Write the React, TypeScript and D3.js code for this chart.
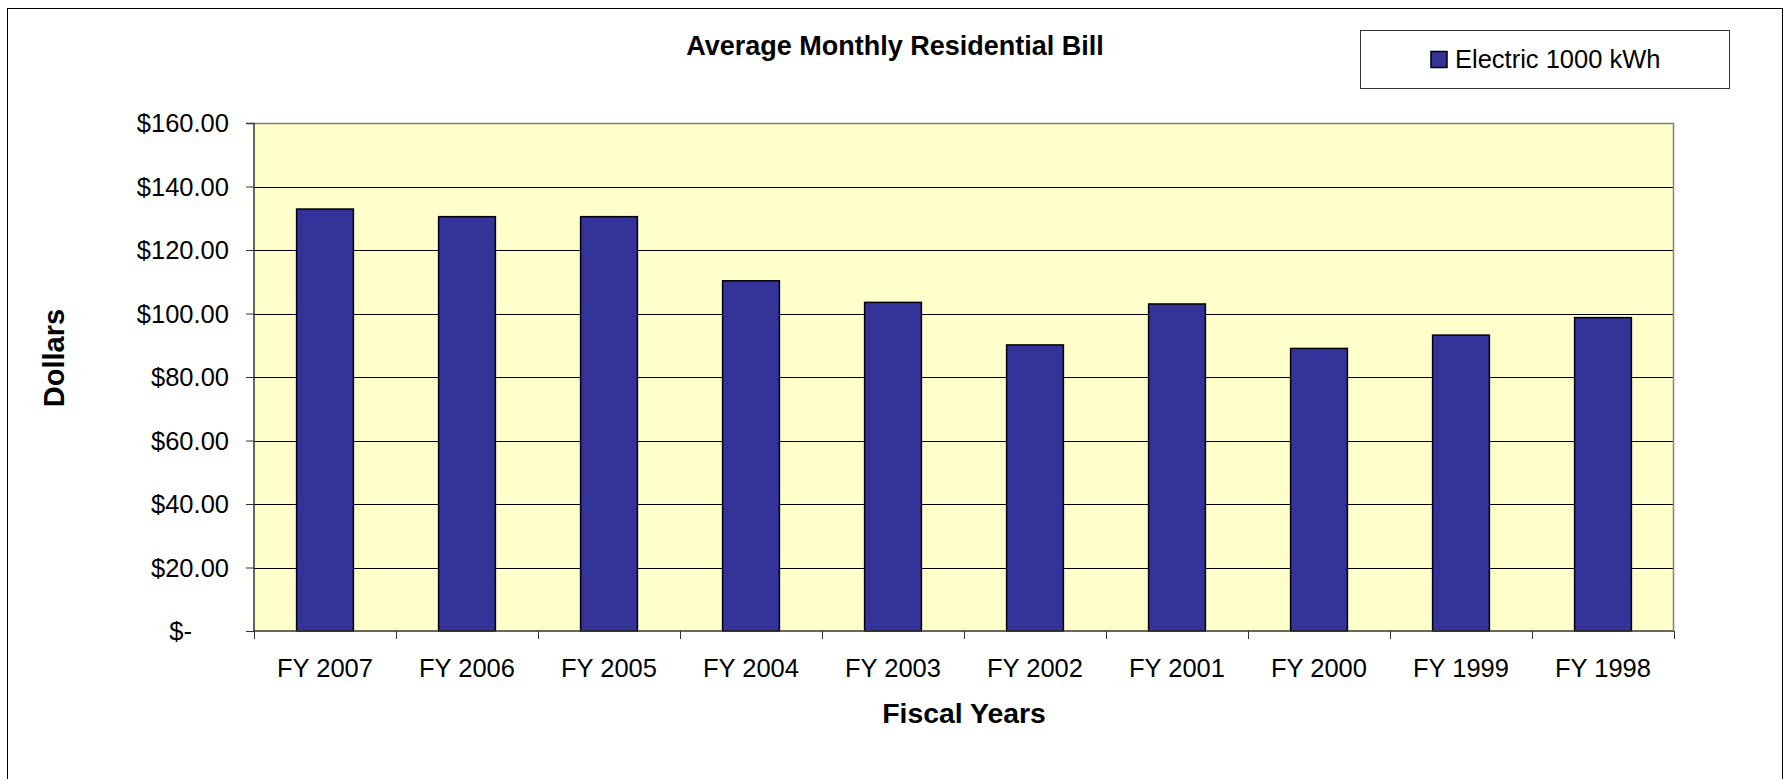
import React, { useEffect, useRef } from 'react';
import * as d3 from 'd3';

// Data
const fiscalYears = ['FY 2007', 'FY 2006', 'FY 2005', 'FY 2004', 'FY 2003', 'FY 2002', 'FY 2001', 'FY 2000', 'FY 1999', 'FY 1998'];
const electricBill = [132.9, 130.5, 130.5, 110.3, 103.5, 90.1, 103.0, 89.0, 93.2, 98.7];
const yTicks = [0, 20, 40, 60, 80, 100, 120, 140, 160];
const seriesName = 'Electric 1000 kWh';

export default function App() {
  const svgRef = useRef<SVGSVGElement>(null);
  const W = 1786;
  const H = 779;
  const margin = { top: 123, right: 112, bottom: 148, left: 254 };
  const width = W - margin.left - margin.right;
  const height = H - margin.top - margin.bottom;
  const font = 'Arial, "Liberation Sans", sans-serif';

  useEffect(() => {
    const root = d3.select(svgRef.current);
    root.selectAll('*').remove();

    // outer chart border
    root.append('rect')
      .attr('x', 7.5).attr('y', 8.5)
      .attr('width', 1775).attr('height', 800)
      .attr('fill', '#fff').attr('stroke', '#000').attr('stroke-width', 1);

    const svg = root.append('g')
      .attr('transform', `translate(${margin.left},${margin.top})`);

    const x = d3.scaleBand()
      .domain(fiscalYears)
      .range([0, width])
      .paddingInner(0.6)
      .paddingOuter(0.3);

    const y = d3.scaleLinear()
      .domain([0, 160])
      .range([height, 0]);

    // plot background
    svg.append('rect')
      .attr('width', width).attr('height', height)
      .attr('fill', '#ffffcc');

    // gridlines
    svg.append('g')
      .selectAll('line')
      .data(yTicks.slice(1, -1))
      .join('line')
      .attr('x1', 0).attr('x2', width)
      .attr('y1', d => Math.round(y(d)) + 0.5).attr('y2', d => Math.round(y(d)) + 0.5)
      .attr('stroke', '#000').attr('stroke-width', 1);

    // top and right border of plot area
    svg.append('path')
      .attr('d', `M0,0.5H${width - 0.5}V${height}`)
      .attr('fill', 'none').attr('stroke', '#808080').attr('stroke-width', 1.5);

    // bars
    svg.append('g')
      .selectAll('rect')
      .data(electricBill)
      .join('rect')
      .attr('x', (d, i) => x(fiscalYears[i]))
      .attr('y', d => y(d))
      .attr('width', x.bandwidth())
      .attr('height', d => height - y(d))
      .attr('fill', '#333399')
      .attr('stroke', '#000')
      .attr('stroke-width', 1.5);

    // y axis
    const yAxis = svg.append('g')
      .call(d3.axisLeft(y).tickValues(yTicks).tickSize(8).tickPadding(17)
        .tickFormat(d => (+d === 0 ? '$-' : d3.format('$.2f')(+d))));
    yAxis.select('.domain').attr('stroke', '#333').attr('stroke-width', 1.5).attr('d', `M-8,0.5H0V${height}`);
    yAxis.selectAll('.tick line').attr('stroke', '#333');
    yAxis.selectAll('.tick text')
      .attr('font-family', font).attr('font-size', 25.5).attr('fill', '#000')
      .attr('dy', '0.35em');
    yAxis.selectAll('.tick').filter((d: any) => d === 0).select('text').attr('x', -62);

    // x axis with ticks at category boundaries
    const xg = svg.append('g').attr('transform', `translate(0,${height})`);
    xg.append('line')
      .attr('x1', 0).attr('x2', width)
      .attr('stroke', '#333').attr('stroke-width', 1.5);
    xg.selectAll('line.tick')
      .data(d3.range(fiscalYears.length + 1))
      .join('line')
      .attr('class', 'tick')
      .attr('x1', i => Math.round(i * width / fiscalYears.length) + 0.5)
      .attr('x2', i => Math.round(i * width / fiscalYears.length) + 0.5)
      .attr('y1', 0).attr('y2', 8)
      .attr('stroke', '#333');
    xg.selectAll('text')
      .data(fiscalYears)
      .join('text')
      .attr('x', d => (x(d) as number) + x.bandwidth() / 2)
      .attr('y', 46)
      .attr('text-anchor', 'middle')
      .attr('font-family', font).attr('font-size', 25.5)
      .text(d => d);

    // axis titles
    root.append('text')
      .attr('x', margin.left + width / 2).attr('y', 723)
      .attr('text-anchor', 'middle')
      .attr('font-family', font).attr('font-size', 28.4).attr('font-weight', 'bold')
      .text('Fiscal Years');

    root.append('text')
      .attr('transform', 'translate(64,358) rotate(-90)')
      .attr('text-anchor', 'middle')
      .attr('font-family', font).attr('font-size', 29).attr('font-weight', 'bold')
      .text('Dollars');

    // chart title
    root.append('text')
      .attr('x', 895).attr('y', 55)
      .attr('text-anchor', 'middle')
      .attr('font-family', font).attr('font-size', 27).attr('font-weight', 'bold')
      .text('Average Monthly Residential Bill');

    // legend
    const legend = root.append('g');
    legend.append('rect')
      .attr('x', 1360.5).attr('y', 30.5).attr('width', 369).attr('height', 58)
      .attr('fill', '#fff').attr('stroke', '#333').attr('stroke-width', 1);
    legend.append('rect')
      .attr('x', 1431).attr('y', 51.5).attr('width', 16).attr('height', 16)
      .attr('fill', '#333399').attr('stroke', '#000').attr('stroke-width', 1.5);
    legend.append('text')
      .attr('x', 1455).attr('y', 68)
      .attr('font-family', font).attr('font-size', 25.5)
      .text(seriesName);
  }, []);

  return (
    <svg ref={svgRef} width={W} height={H}
      style={{ position: 'absolute', left: 0, top: 0, background: '#fff' }} />
  );
}
